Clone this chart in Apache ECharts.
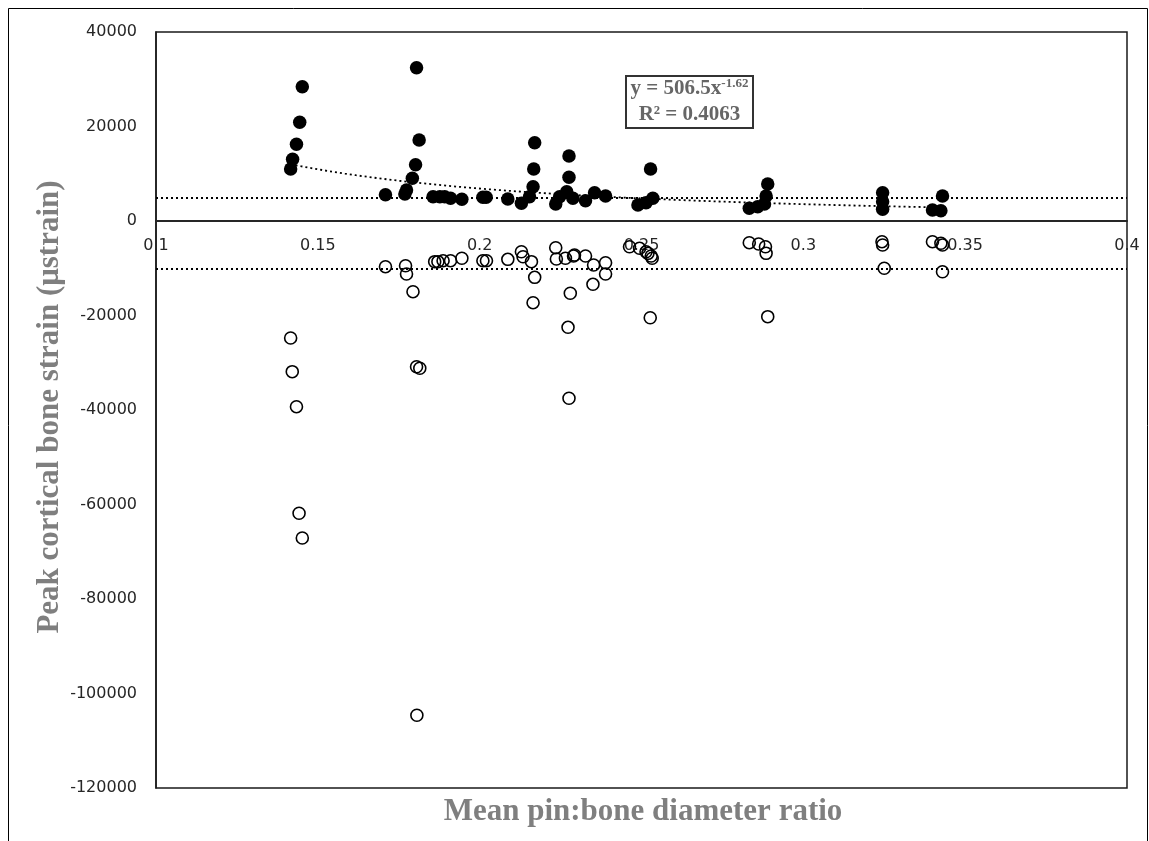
<!DOCTYPE html>
<html>
<head>
<meta charset="utf-8">
<script src="https://cdn.jsdelivr.net/npm/echarts@6/dist/echarts.min.js"></script>
<style>
html,body{margin:0;padding:0;background:#fff;}
#chart{width:1149px;height:841px;}
</style>
</head>
<body>
<div id="chart"></div>
<script>
// Tension (filled) peak strain
const filledX = [0.1452,0.1444,0.1434,0.1422,0.1416,0.1709,0.1769,0.1774,0.1792,0.1802,0.1813,0.1805,
  0.1856,0.1877,0.1892,0.1910,0.1945,0.2010,0.2020,0.2087,0.2129,0.2154,0.2165,0.2167,0.2170,
  0.2235,0.2247,0.2269,0.2276,0.2276,0.2288,0.2327,0.2355,0.2389,0.2489,0.2514,0.2535,0.2528,
  0.2833,0.2859,0.2880,0.2885,0.2890,0.3245,0.3245,0.3245,0.3399,0.3425,0.3430];
const filledY = [28420,20890,16230,13060,11000,5570,5710,6560,9040,11920,17140,32440,
  5140,5140,5140,4800,4590,5020,5020,4660,3750,5140,7260,11000,16570,
  3600,5140,6200,9250,13760,4800,4300,5990,5290,3390,3870,4800,11000,
  2690,3030,3600,5290,7830,5990,4080,2480,2330,2180,5290];
// Compression (open) peak strain
const openX = [0.1416,0.1421,0.1434,0.1442,0.1452,0.1709,0.1771,0.1774,0.1794,0.1805,0.1815,0.1806,
  0.1861,0.1871,0.1887,0.1910,0.1945,0.2010,0.2021,0.2087,0.2129,0.2134,0.2160,0.2170,0.2165,
  0.2276,0.2273,0.2280,0.2235,0.2237,0.2265,0.2290,0.2293,0.2327,0.2352,0.2350,0.2389,0.2389,
  0.2463,0.2494,0.2514,0.2520,0.2530,0.2533,0.2527,0.2833,0.2862,0.2883,0.2885,0.2890,
  0.3243,0.3245,0.3250,0.3399,0.3425,0.3430,0.3430];
const openY = [-24760,-31890,-39300,-61860,-67090,-9670,-9460,-11220,-14960,-30840,-31170,-104610,
  -8610,-8610,-8400,-8400,-7890,-8400,-8400,-8110,-6500,-7560,-8610,-11920,-17290,
  -37520,-22500,-15300,-5650,-8040,-7890,-7410,-7200,-7410,-9310,-13400,-8830,-11220,
  -5440,-5780,-6500,-6840,-7410,-7890,-20470,-4590,-4870,-5440,-6840,-20250,
  -4380,-5080,-10010,-4380,-4720,-5080,-10730];
// Reference (threshold) lines
const refLines = [5000, -10000];
// Power trendline shown on the chart: y = 506.5 x^-1.62
const trendA = 506.5, trendB = -1.62;
const trendRange = [0.1416, 0.3430];
const xTicks = [0.1, 0.15, 0.2, 0.25, 0.3, 0.35, 0.4];
const yTicks = [-120000, -100000, -80000, -60000, -40000, -20000, 0, 20000, 40000];

const trendData = [];
for (let i = 0; i <= 60; i++) {
  const x = trendRange[0] + (trendRange[1] - trendRange[0]) * i / 60;
  trendData.push([x, trendA * Math.pow(x, trendB)]);
}

const gridTop = 32, gridBottom = 53, chartH = 841;
const plotH = chartH - gridTop - gridBottom;
const yMin = yTicks[0], yMax = yTicks[yTicks.length - 1];
const xAxisOffset = -plotH * (0 - yMin) / (yMax - yMin);

const chart = echarts.init(document.getElementById('chart'));
const labelFont = { fontFamily: 'DejaVu Sans', fontSize: 16, color: '#262626' };
chart.setOption({
  animation: false,
  backgroundColor: '#fff',
  grid: { left: 156, right: 22, top: gridTop, bottom: gridBottom, show: true, borderColor: '#1a1a1a', borderWidth: 1.5, backgroundColor: 'transparent' },
  xAxis: {
    type: 'value', min: xTicks[0], max: xTicks[xTicks.length - 1], interval: 0.05,
    position: 'bottom', offset: xAxisOffset,
    axisLine: { onZero: false, lineStyle: { color: '#262626', width: 2 } },
    axisTick: { show: false },
    splitLine: { show: false },
    axisLabel: Object.assign({ margin: 17, formatter: v => String(+v.toFixed(2)) }, labelFont)
  },
  yAxis: {
    type: 'value', min: yMin, max: yMax, interval: 20000,
    axisLine: { show: true, onZero: false, lineStyle: { color: '#1a1a1a', width: 1.5 } },
    axisTick: { show: false },
    splitLine: { show: false },
    axisLabel: Object.assign({ margin: 19, formatter: v => String(v) }, labelFont)
  },
  series: [
    {
      type: 'line', data: trendData, showSymbol: false, symbol: 'none', silent: true,
      lineStyle: { color: '#000', width: 1.8, type: [2, 3] }, z: 3,
      markLine: {
        silent: true, symbol: 'none', label: { show: false },
        lineStyle: { color: '#000', width: 1.8, type: [2, 3] },
        data: refLines.map(v => ({ yAxis: v }))
      }
    },
    {
      type: 'scatter', data: filledX.map((x, i) => [x, filledY[i]]),
      symbol: 'circle', symbolSize: 13.5,
      itemStyle: { color: '#000', opacity: 1 }, z: 4
    },
    {
      type: 'scatter', data: openX.map((x, i) => [x, openY[i]]),
      symbol: 'circle', symbolSize: 12,
      itemStyle: { color: 'rgba(0,0,0,0)', borderColor: '#000', borderWidth: 1.6, opacity: 1 }, z: 4
    }
  ],
  graphic: [
    { type: 'rect', shape: { x: 8.5, y: 8.5, width: 1139, height: 840 }, style: { fill: 'none', stroke: '#000', lineWidth: 1 }, silent: true },
    { type: 'text', x: 50, y: 407, rotation: Math.PI / 2, style: { text: 'Peak cortical bone strain (μstrain)', font: 'bold 31px "Liberation Serif"', fill: '#7f7f7f', align: 'center', verticalAlign: 'middle' } },
    { type: 'text', x: 643, y: 812, style: { text: 'Mean pin:bone diameter ratio', font: 'bold 31px "Liberation Serif"', fill: '#7f7f7f', align: 'center', verticalAlign: 'middle' } },
    { type: 'rect', shape: { x: 626, y: 76, width: 127, height: 52 }, style: { fill: '#fff', stroke: '#333', lineWidth: 2 }, z: 10 },
    { type: 'text', x: 689.5, y: 102, z: 11, style: {
        text: '{a|y = 506.5x}{s|-1.62}\n{a|R² = 0.4063}',
        align: 'center', verticalAlign: 'middle',
        rich: {
          a: { fontFamily: 'Liberation Serif', fontWeight: 'bold', fontSize: 21, fill: '#666', color: '#666', lineHeight: 26 },
          s: { fontFamily: 'Liberation Serif', fontWeight: 'bold', fontSize: 13, fill: '#666', color: '#666', lineHeight: 26, padding: [0, 0, 10, 0] }
        }
      } }
  ]
});
</script>
</body>
</html>
